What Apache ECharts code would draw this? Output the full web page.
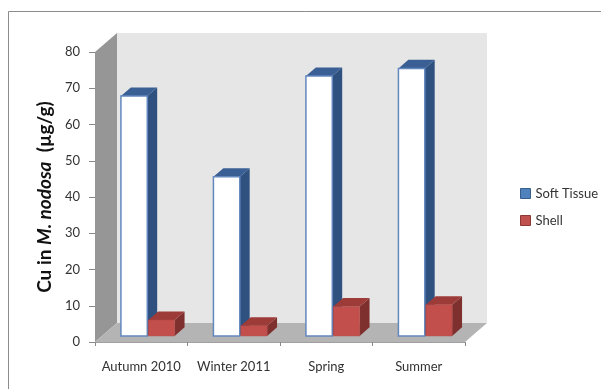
<!DOCTYPE html>
<html>
<head>
<meta charset="utf-8">
<script src="https://cdn.jsdelivr.net/npm/echarts@6/dist/echarts.min.js"></script>
<style>
  html, body { margin: 0; padding: 0; background: #fff; }
  #chart { width: 601px; height: 389px; }
</style>
</head>
<body>
<div id="chart"></div>
<script>
// Copper concentration per season
const seasons = ['Autumn 2010', 'Winter 2011', 'Spring', 'Summer'];
const softTissue = [66.2, 43.9, 71.7, 73.8];
const shell = [4.4, 2.8, 8.1, 8.6];
const yTicks = { min: 0, max: 80, interval: 10 };

const FONT = 'Lato, "Open Sans", sans-serif';
// pseudo-3D depth of the walls (px) and where bars sit inside it
const DEPTH = [22, -19];
const BAR_FRONT = 0.32;
const BAR_BACK = 0.77;

const chart = echarts.init(document.getElementById('chart'));

function wallsItem(params, api) {
  const cs = params.coordSys;
  const x = cs.x, y = cs.y, w = cs.width, h = cs.height;
  const dx = DEPTH[0], dy = DEPTH[1];
  return {
    type: 'group',
    children: [
      { type: 'rect', shape: { x: x + dx, y: y + dy, width: w, height: h },
        style: { fill: '#E6E6E6' } },
      { type: 'polygon', shape: { points: [[x, y], [x + dx, y + dy], [x + dx, y + h + dy], [x, y + h]] },
        style: { fill: '#969696' } },
      { type: 'polygon', shape: { points: [[x, y + h], [x + dx, y + h + dy], [x + w + dx, y + h + dy], [x + w, y + h]] },
        style: { fill: '#B4B4B4' } }
    ]
  };
}

function barRenderer(side, c) {
  return function (params, api) {
    const idx = api.value(0), v = api.value(1);
    const base = api.coord([idx, 0]);
    const top = api.coord([idx, v]);
    const band = api.size([1, 0])[0];
    const w = band * 0.285;
    const x0 = side < 0 ? base[0] - 1 - w : base[0];
    const fdx = DEPTH[0] * BAR_FRONT, fdy = DEPTH[1] * BAR_FRONT;
    const bdx = DEPTH[0] * BAR_BACK, bdy = DEPTH[1] * BAR_BACK;
    const ty = top[1], by = base[1];
    return {
      type: 'group',
      children: [
        { type: 'polygon',
          shape: { points: [[x0 + w + fdx, ty + fdy], [x0 + w + bdx, ty + bdy], [x0 + w + bdx, by + bdy], [x0 + w + fdx, by + fdy]] },
          style: { fill: c.side } },
        { type: 'polygon',
          shape: { points: [[x0 + fdx, ty + fdy], [x0 + w + fdx, ty + fdy], [x0 + w + bdx, ty + bdy], [x0 + bdx, ty + bdy]] },
          style: { fill: c.top } },
        { type: 'rect',
          shape: { x: x0 + fdx, y: ty + fdy, width: w, height: by - ty },
          style: { fill: c.front, stroke: c.stroke, lineWidth: c.lineWidth } }
      ]
    };
  };
}

const option = {
  animation: false,
  textStyle: { fontFamily: FONT },
  graphic: [
    { type: 'rect', shape: { x: 8.5, y: 11.5, width: 620, height: 400 },
      style: { fill: null, stroke: '#8C8C8C', lineWidth: 1 }, z: 100 }
  ],
  legend: {
    orient: 'vertical',
    left: 515,
    top: 182,
    itemWidth: 10,
    itemHeight: 10,
    itemGap: 14,
    icon: 'rect',
    textStyle: { fontFamily: FONT, fontSize: 13, color: '#333' },
    data: [
      { name: 'Soft Tissue', itemStyle: { color: '#4F81BD', borderColor: '#385D8A', borderWidth: 1 } },
      { name: 'Shell', itemStyle: { color: '#C0504D', borderColor: '#8C3836', borderWidth: 1 } }
    ]
  },
  grid: { left: 95, top: 52, width: 370, height: 290 },
  xAxis: {
    type: 'category',
    data: seasons,
    axisLine: { show: true, lineStyle: { color: '#A0A0A0' } },
    axisTick: { show: true, length: 4, lineStyle: { color: '#888' } },
    axisLabel: { fontFamily: FONT, fontSize: 13, color: '#333', margin: 18, interval: 0 },
    splitLine: { show: false }
  },
  yAxis: {
    type: 'value',
    min: yTicks.min,
    max: yTicks.max,
    interval: yTicks.interval,
    name: '{n|Cu in }{i|M. nodosa}{n|  (µg/g)}',
    nameLocation: 'middle',
    nameRotate: 90,
    nameGap: 41,
    nameTextStyle: {
      rich: {
        n: { fontFamily: FONT, fontSize: 19, fontWeight: 'bold', color: '#111' },
        i: { fontFamily: FONT, fontSize: 19, fontWeight: 'bold', fontStyle: 'italic', color: '#111' }
      }
    },
    axisLine: { show: false },
    axisTick: { show: true, length: 6, lineStyle: { color: '#888' } },
    axisLabel: { fontFamily: FONT, fontSize: 13, color: '#333', margin: 15 },
    splitLine: { show: false }
  },
  series: [
    { type: 'custom', name: 'walls', silent: true, z: 1,
      renderItem: wallsItem, data: [[0, 0]] },
    { type: 'custom', name: 'Soft Tissue', z: 2,
      itemStyle: { color: '#4F81BD' },
      renderItem: barRenderer(-1, { front: '#FFFFFF', stroke: '#6388BE', lineWidth: 1.5, top: '#3A5F95', side: '#2F5180' }),
      data: softTissue.map((v, i) => [i, v]) },
    { type: 'custom', name: 'Shell', z: 3,
      itemStyle: { color: '#C0504D' },
      renderItem: barRenderer(1, { front: '#C24F4B', stroke: '#B04744', lineWidth: 0.5, top: '#9C3B38', side: '#7E302E' }),
      data: shell.map((v, i) => [i, v]) }
  ]
};

chart.setOption(option);
</script>
</body>
</html>
